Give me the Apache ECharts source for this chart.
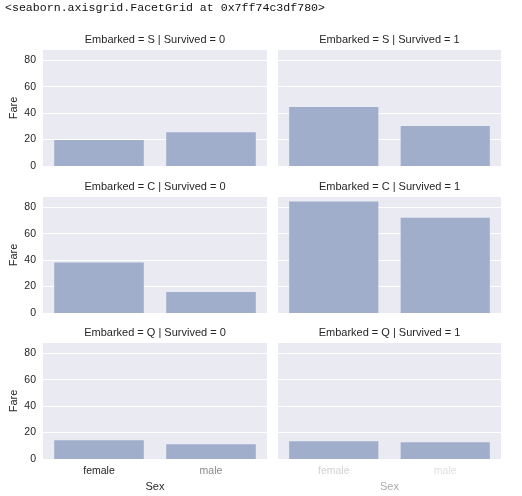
<!DOCTYPE html>
<html>
<head>
<meta charset="utf-8">
<script src="https://cdn.jsdelivr.net/npm/echarts@6/dist/echarts.min.js"></script>
<style>
html,body{margin:0;padding:0;background:#fff;}
#c{width:522px;height:496px;}
</style>
</head>
<body>
<div id="c"></div>
<script>
var headerText = "<seaborn.axisgrid.FacetGrid at 0x7ff74c3df780>";
var sexCategories = ["female", "male"];
var embarkedRows = ["S", "C", "Q"];
var survivedCols = ["0", "1"];
var fareS0 = [19.6, 25.6];
var fareS1 = [44.6, 30.2];
var fareC0 = [38.2, 15.9];
var fareC1 = [84.4, 72.1];
var fareQ0 = [14.2, 11.1];
var fareQ1 = [13.4, 12.7];
var yTicks = [0, 20, 40, 60, 80];
var yMax = 87.8;

var panelValues = [[fareS0, fareS1], [fareC0, fareC1], [fareQ0, fareQ1]];

var chart = echarts.init(document.getElementById('c'), null, {renderer: 'canvas'});
var font = "Liberation Sans";
var grids = [], xAxes = [], yAxes = [], series = [], graphics = [];
var colLeft = [43, 278], colWidth = [224, 223];
var rowTop = [50, 197, 343], rowH = 116;
var xLabelColors = [['#262626', '#8a8a8a'], ['#d2d2d2', '#e0e0e0']];

graphics.push({type: 'text', left: 5, top: 2, style: {text: headerText, font: '11.6px "Liberation Mono", monospace', fill: '#111'}});

var idx = 0;
for (let r = 0; r < 3; r++) {
  for (let c = 0; c < 2; c++) {
    grids.push({left: colLeft[c], top: rowTop[r], width: colWidth[c], height: rowH, backgroundColor: '#EAEAF2', show: true, borderWidth: 0});
    const bottomRow = (r === 2);
    const cols = xLabelColors[c];
    xAxes.push({
      type: 'category', gridIndex: idx, data: sexCategories,
      axisLine: {show: false}, axisTick: {show: false}, splitLine: {show: false},
      axisLabel: {show: bottomRow, fontFamily: font, fontSize: 10.5, margin: 7,
        color: function (v, i) { return cols[sexCategories.indexOf(v) >= 0 ? sexCategories.indexOf(v) : (i || 0)]; }},
      name: bottomRow ? 'Sex' : '', nameLocation: 'middle', nameGap: 22,
      nameTextStyle: {fontFamily: font, fontSize: 11, color: c === 0 ? '#262626' : '#aaaaaa'}
    });
    yAxes.push({
      type: 'value', gridIndex: idx, min: 0, max: yMax, interval: 20,
      axisLine: {show: false}, axisTick: {show: false},
      splitLine: {show: true, showMaxLine: false, showMinLine: false, lineStyle: {color: '#ffffff', width: 1}},
      axisLabel: {show: c === 0, fontFamily: font, fontSize: 10.5, color: '#262626', margin: 7, showMaxLabel: false,
        formatter: function (v) { return yTicks.indexOf(v) >= 0 ? String(v) : ''; }},
      name: c === 0 ? 'Fare' : '', nameLocation: 'middle', nameGap: 24, nameRotate: 90,
      nameTextStyle: {fontFamily: font, fontSize: 11, color: '#262626'}
    });
    series.push({
      type: 'bar', xAxisIndex: idx, yAxisIndex: idx, data: panelValues[r][c],
      barCategoryGap: '20%', itemStyle: {color: '#A1AECB'}, silent: true
    });
    graphics.push({type: 'text', x: colLeft[c] + colWidth[c] / 2, y: rowTop[r] - 10,
      style: {text: 'Embarked = ' + embarkedRows[r] + ' | Survived = ' + survivedCols[c],
        font: '11px "Liberation Sans"', fill: '#262626', textAlign: 'center', textVerticalAlign: 'middle'}});
    idx++;
  }
}

chart.setOption({
  animation: false,
  backgroundColor: '#ffffff',
  grid: grids, xAxis: xAxes, yAxis: yAxes, series: series,
  graphic: graphics
});
</script>
</body>
</html>
